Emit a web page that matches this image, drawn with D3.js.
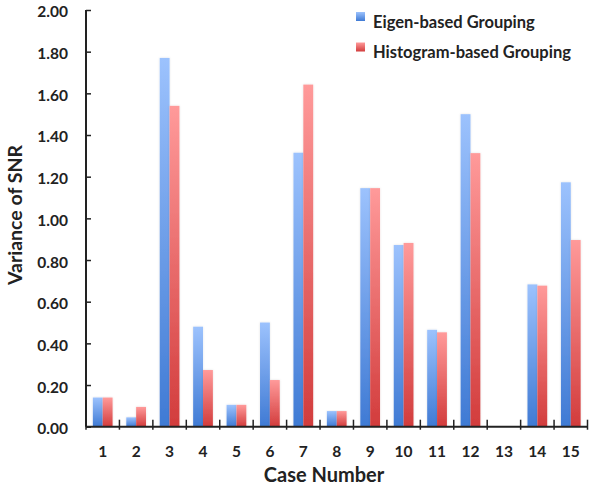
<!DOCTYPE html>
<html>
<head>
<meta charset="utf-8">
<script src="https://cdn.jsdelivr.net/npm/d3@7"></script>
<style>
  html, body { margin: 0; padding: 0; background: #fff; }
  svg { display: block; font-family: Lato, "Open Sans", sans-serif; font-weight: bold; }
</style>
</head>
<body>
<svg id="chart" width="591" height="488"></svg>
<script>
// Case numbers along the x axis
const cases = ["1","2","3","4","5","6","7","8","9","10","11","12","13","14","15"];
// Variance of SNR per case for each grouping method
const eigenValues     = [0.14, 0.045, 1.77, 0.48, 0.105, 0.50, 1.315, 0.075, 1.145, 0.872, 0.465, 1.50, 0, 0.683, 1.173];
const histogramValues = [0.14, 0.095, 1.54, 0.272, 0.105, 0.224, 1.642, 0.075, 1.145, 0.882, 0.453, 1.313, 0, 0.677, 0.896];
const seriesNames = ["Eigen-based Grouping", "Histogram-based Grouping"];
const yTicks = [0, 0.2, 0.4, 0.6, 0.8, 1.0, 1.2, 1.4, 1.6, 1.8, 2.0];

const svg = d3.select("#chart");
const plotLeft = 86, plotRight = 587.5, plotTop = 10, plotBottom = 426.7;

const rows = cases.map((c, i) => ({ c, vals: [eigenValues[i], histogramValues[i]] }));

const x0 = d3.scaleBand().domain(cases).range([plotLeft, plotRight]).paddingInner(0.41).paddingOuter(0.205);
const x1 = d3.scaleBand().domain([0, 1]).range([0, x0.bandwidth()]);
const y = d3.scaleLinear().domain([0, 2]).range([plotBottom, plotTop]);

// Vertical gradients: light at the top of each bar, deeper at the base
const defs = svg.append("defs");
const grads = [
  { id: "gBlue", top: "#9cc2fd", bottom: "#3f7ad4" },
  { id: "gRed",  top: "#ff9a9a", bottom: "#d23c3c" }
];
grads.forEach(g => {
  const lg = defs.append("linearGradient").attr("id", g.id)
    .attr("x1", 0).attr("y1", 0).attr("x2", 0).attr("y2", 1);
  lg.append("stop").attr("offset", "0%").attr("stop-color", g.top);
  lg.append("stop").attr("offset", "100%").attr("stop-color", g.bottom);
});
const glow = defs.append("filter").attr("id", "soft").attr("x", "-30%").attr("y", "-5%").attr("width", "160%").attr("height", "110%");
glow.append("feGaussianBlur").attr("in", "SourceAlpha").attr("stdDeviation", 1).attr("result", "b");
glow.append("feFlood").attr("flood-color", "#000").attr("flood-opacity", 0.12);
glow.append("feComposite").attr("in2", "b").attr("operator", "in").attr("result", "s");
const merge = glow.append("feMerge");
merge.append("feMergeNode").attr("in", "s");
merge.append("feMergeNode").attr("in", "SourceGraphic");

// Bars
const groups = svg.append("g").selectAll("g").data(rows).join("g")
  .attr("transform", d => `translate(${x0(d.c)},0)`);
groups.selectAll("rect").data(d => d.vals.map((v, k) => ({ v, k })).filter(e => e.v > 0)).join("rect")
  .attr("x", d => x1(d.k))
  .attr("width", x1.bandwidth())
  .attr("y", d => y(d.v))
  .attr("height", d => y(0) - y(d.v))
  .attr("fill", d => d.k === 0 ? "url(#gBlue)" : "url(#gRed)")
  .attr("filter", "url(#soft)");

// Y axis: ticks pointing into the plot
const yAxis = d3.axisRight(y).tickValues(yTicks).tickSize(5).tickFormat(d3.format(".2f"));
const gy = svg.append("g").attr("transform", `translate(${plotLeft},0)`).call(yAxis);
gy.select(".domain").remove();
gy.selectAll(".tick line").attr("stroke", "#222").attr("stroke-width", 1.5);
gy.selectAll(".tick text").attr("x", -18).attr("text-anchor", "end").attr("dy", "0.45em")
  .attr("font-size", 15.5).attr("font-weight", "bold").attr("fill", "#222").attr("font-family", "Lato");
svg.append("line").attr("x1", plotLeft).attr("x2", plotLeft).attr("y1", plotTop).attr("y2", plotBottom)
  .attr("stroke", "#222").attr("stroke-width", 2);

// X axis: tick marks sit on the category boundaries and cross the baseline
svg.append("line").attr("x1", plotLeft).attr("x2", plotRight).attr("y1", plotBottom).attr("y2", plotBottom)
  .attr("stroke", "#222").attr("stroke-width", 2);
const step = x0.step();
const boundaries = d3.range(cases.length + 1).map(i => plotLeft + i * step);
svg.append("g").selectAll("line").data(boundaries).join("line")
  .attr("x1", d => d).attr("x2", d => d).attr("y1", plotBottom - 7).attr("y2", plotBottom + 3)
  .attr("stroke", "#222").attr("stroke-width", 1.5);
svg.append("g").selectAll("text").data(cases).join("text")
  .attr("x", d => x0(d) + x0.bandwidth() / 2)
  .attr("y", 457)
  .attr("text-anchor", "middle")
  .attr("font-size", 15.5).attr("fill", "#222")
  .text(d => d);

// Axis titles
svg.append("text").attr("x", 324).attr("y", 482).attr("text-anchor", "middle")
  .attr("font-size", 20).attr("fill", "#222").text("Case Number");
svg.append("text").attr("transform", "translate(22,215) rotate(-90)").attr("text-anchor", "middle")
  .attr("font-size", 19.5).attr("fill", "#222").text("Variance of SNR");

// Legend
const legend = svg.append("g");
seriesNames.forEach((name, k) => {
  const ly = 16.5 + k * 30.5;
  legend.append("rect").attr("x", 356).attr("y", ly - 4.5).attr("width", 9).attr("height", 9)
    .attr("fill", k === 0 ? "url(#gBlue)" : "url(#gRed)");
  legend.append("text").attr("x", 373).attr("y", ly + 11).attr("font-size", 16.5).attr("fill", "#222").text(name);
});
</script>
</body>
</html>
